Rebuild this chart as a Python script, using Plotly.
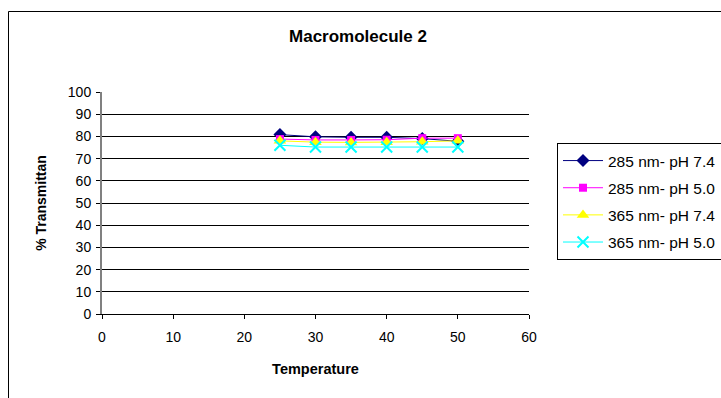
import plotly.graph_objects as go

# Temperature (°C) and % transmittance readings
temperature = [25, 30, 35, 40, 45, 50]
t285_ph74 = [80.8, 79.8, 79.6, 79.6, 79.0, 77.8]
t285_ph50 = [78.8, 78.4, 78.4, 78.5, 79.2, 79.2]
t365_ph74 = [78.0, 77.4, 77.3, 77.4, 77.6, 78.0]
t365_ph50 = [76.0, 75.2, 75.2, 75.2, 75.2, 75.2]

series_names = ["285 nm- pH 7.4", "285 nm- pH 5.0", "365 nm- pH 7.4", "365 nm- pH 5.0"]
series_values = [t285_ph74, t285_ph50, t365_ph74, t365_ph50]
series_colors = ["#000080", "#FF00FF", "#FFFF00", "#00FFFF"]
series_symbols = ["diamond", "square", "triangle-up", "x-thin"]
series_sizes = [10, 8, 11, 11]

x_ticks = [0, 10, 20, 30, 40, 50, 60]
y_ticks = [0, 10, 20, 30, 40, 50, 60, 70, 80, 90, 100]

FONT = "Arial, Liberation Sans, sans-serif"

fig = go.Figure()
for i, (name, vals, col, sym, sz) in enumerate(
        zip(series_names, series_values, series_colors, series_symbols, series_sizes)):
    marker = dict(symbol=sym, size=sz, color=col)
    if sym == "x-thin":
        marker["line"] = dict(color=col, width=2)
    fig.add_trace(go.Scatter(
        x=temperature, y=vals, name=name, mode="lines+markers",
        line=dict(color=col, width=1), marker=marker,
        legendgroup=f"g{i}",
    ))

W, H = 721, 398
L, R, T, B = 102, 192, 92, 84
pw, ph = W - L - R, H - T - B

def px_x(p):
    return (p - L) / pw

def px_y(p):
    return (H - B - p) / ph

fig.update_layout(
    width=W, height=H,
    margin=dict(l=L, r=R, t=T, b=B, autoexpand=False),
    paper_bgcolor="white", plot_bgcolor="white",
    font=dict(family=FONT, size=14, color="black"),
    title=dict(text="<b>Macromolecule 2</b>", x=px_x(358), xref="paper",
               y=1 - 36 / H, yanchor="middle", xanchor="center",
               font=dict(family=FONT, size=17, color="black")),
    showlegend=True,
    legend=dict(xref="container", yref="container",
                x=557 / W, y=1 - 143 / H, xanchor="left", yanchor="top",
                bordercolor="black", borderwidth=1, bgcolor="white",
                font=dict(family=FONT, size=15.5, color="black"),
                itemwidth=40, tracegroupgap=4, traceorder="grouped"),
    shapes=[dict(type="rect", xref="paper", yref="paper",
                 x0=px_x(8.5), x1=px_x(730), y0=px_y(405), y1=px_y(11.5),
                 line=dict(color="black", width=1), layer="below")],
)

fig.update_xaxes(
    range=[0, 60], tickvals=x_ticks, showgrid=False, zeroline=False,
    showline=True, linecolor="black", linewidth=1,
    ticks="outside", ticklen=4, tickcolor="black", ticklabelstandoff=6,
    tickfont=dict(family=FONT, size=14),
    title=dict(text="<b>Temperature</b>", font=dict(family=FONT, size=14.5), standoff=20),
)
fig.update_yaxes(
    range=[0, 100], tickvals=y_ticks, showgrid=True, gridcolor="black", gridwidth=1,
    zeroline=False, showline=True, linecolor="#808080", linewidth=2,
    ticks="outside", ticklen=4, tickcolor="black", ticklabelstandoff=2,
    tickfont=dict(family=FONT, size=14),
    title=dict(text="<b>% Transmittan</b>", font=dict(family=FONT, size=14), standoff=18),
)

fig.write_html("out.html")
